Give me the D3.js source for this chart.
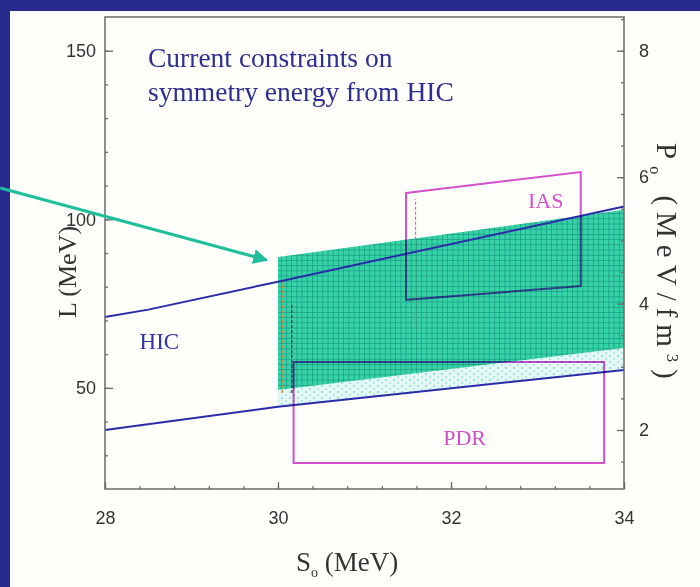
<!DOCTYPE html>
<html>
<head>
<meta charset="utf-8">
<script src="https://cdn.jsdelivr.net/npm/d3@7"></script>
<style>
  body { margin: 0; background: #fff; }
  svg { display: block; }
</style>
</head>
<body>
<div id="chart"></div>
<script>
const w = 700, h = 587;

// axis ticks
const xTicks = [28, 30, 32, 34];
const lTicks = [50, 100, 150];
const pTicks = [2, 4, 6, 8];

// constraint curves / regions (S0 in MeV, L in MeV)
const hicUpper = [[28, 71], [28.5, 73.2], [30, 81.5], [34, 103.8]];
const hicLower = [[28, 37.5], [30, 44.4], [34, 55.3]];
const bandTop = [[30, 88.8], [34, 102.8]];
const bandBottom = [[30, 49.4], [34, 61.8]];
const iasBox = [[31.48, 107.8], [33.5, 114], [33.5, 80.2], [31.48, 76.1]];
const pdrBox = [[30.18, 57.7], [33.77, 57.7], [33.77, 27.7], [30.18, 27.7]];
const dashLines = [
  {s: 30.05, l0: 48.5, l1: 81.4, c: "#d0803a"},
  {s: 30.16, l0: 48.5, l1: 75.2, c: "#335"},
  {s: 31.59, l0: 67.2, l1: 106, c: "#d0803a"}
];
const arrowFrom = [26.79, 109.3], arrowTo = [29.87, 87.9];

const rho0 = 0.16; // P0 = L * rho0 / 3

const svg = d3.select("#chart").append("svg")
    .attr("width", w)
    .attr("height", h);

const defs = svg.append("defs");

// green hatched grid
const grid = defs.append("pattern")
    .attr("id", "grid")
    .attr("patternUnits", "userSpaceOnUse")
    .attr("width", 5.2).attr("height", 5.2);
grid.append("rect").attr("width", 5.2).attr("height", 5.2).attr("fill", "#36d3a6");
grid.append("path").attr("d", "M0,0.4H5.2M0.4,0V5.2")
    .attr("stroke", "#1b9c86").attr("stroke-width", 0.8);

// light dotted fill
const dots = defs.append("pattern")
    .attr("id", "dots")
    .attr("patternUnits", "userSpaceOnUse")
    .attr("width", 8).attr("height", 6);
dots.append("rect").attr("width", 8).attr("height", 6).attr("fill", "#e4f8f5");
dots.append("circle").attr("cx", 2).attr("cy", 2).attr("r", 1).attr("fill", "#7fd9d0");
dots.append("circle").attr("cx", 6).attr("cy", 5).attr("r", 1).attr("fill", "#9fe3dc");

defs.append("marker")
    .attr("id", "head")
    .attr("viewBox", "0 0 10 10")
    .attr("refX", 9).attr("refY", 5)
    .attr("markerWidth", 5).attr("markerHeight", 5)
    .attr("markerUnits", "strokeWidth")
    .attr("orient", "auto")
  .append("path").attr("d", "M0,0L10,5L0,10z").attr("fill", "#1fbf9c");

// slide background
svg.append("rect").attr("width", w).attr("height", h).attr("fill", "#262a8e");
svg.append("rect").attr("x", 10).attr("y", 11).attr("width", w - 10).attr("height", h - 11)
    .attr("fill", "#fefefb");

const margin = {left: 105, right: 76, top: 17, bottom: 98};

const x = d3.scaleLinear().domain([28, 34]).range([margin.left, w - margin.right]);
const y = d3.scaleLinear().domain([20, 160]).range([h - margin.bottom, margin.top]);
const yP = d3.scaleLinear().domain([20 * rho0 / 3, 160 * rho0 / 3]).range(y.range());

const line = d3.line().x(d => x(d[0])).y(d => y(d[1]));

const plot = svg.append("g");

// dotted region between band bottom and lower HIC curve
const dotted = bandBottom.concat([[34, 55.3], [30, 44.4]]);
plot.append("path")
    .attr("d", line(dotted) + "Z")
    .attr("fill", "url(#dots)");

// hatched band
plot.append("path")
    .attr("d", line(bandTop.concat(bandBottom.slice().reverse())) + "Z")
    .attr("fill", "url(#grid)");

// vertical dashed lines
plot.selectAll(".vd")
    .data(dashLines)
    .enter().append("line")
    .attr("class", "vd")
    .attr("x1", d => x(d.s)).attr("x2", d => x(d.s))
    .attr("y1", d => y(d.l0)).attr("y2", d => y(d.l1))
    .attr("stroke", d => d.c)
    .attr("stroke-width", 1.2)
    .attr("stroke-dasharray", "3,2");

// HIC curves
plot.selectAll(".hic")
    .data([hicUpper, hicLower])
    .enter().append("path")
    .attr("class", "hic")
    .attr("d", line)
    .attr("fill", "none")
    .attr("stroke", "#2b2ba8")
    .attr("stroke-width", 2);

// IAS and PDR boxes
plot.selectAll(".box")
    .data([iasBox, pdrBox])
    .enter().append("path")
    .attr("class", "box")
    .attr("d", d => line(d) + "Z")
    .attr("fill", "none")
    .attr("stroke", "#d54fd0")
    .attr("stroke-width", 2)
    .style("mix-blend-mode", "multiply");

// frame
plot.append("rect")
    .attr("x", x(28)).attr("y", y(160))
    .attr("width", x(34) - x(28)).attr("height", y(20) - y(160))
    .attr("fill", "none")
    .attr("stroke", "#6a6a6a")
    .attr("stroke-width", 1.5);

function tickStyle(g) {
  g.select(".domain").remove();
  g.selectAll("line").attr("stroke", "#6a6a6a").attr("stroke-width", 1.3);
  g.selectAll("text")
    .attr("fill", "#333")
    .style("font-family", "Liberation Sans, Arial, sans-serif")
    .style("font-size", "18px");
}

// bottom axis
svg.append("g")
    .attr("transform", `translate(0,${y(20)})`)
    .call(d3.axisBottom(x).tickValues(d3.range(28, 34.01, 0.4)).tickSize(-3).tickFormat(""))
    .call(tickStyle);
svg.append("g")
    .attr("transform", `translate(0,${y(20)})`)
    .call(d3.axisBottom(x).tickValues(xTicks).tickSize(-7).tickPadding(22).tickFormat(d3.format("d")))
    .call(tickStyle);

// left axis
svg.append("g")
    .attr("transform", `translate(${x(28)},0)`)
    .call(d3.axisLeft(y).tickValues(d3.range(30, 160, 10)).tickSize(-3).tickFormat(""))
    .call(tickStyle);
svg.append("g")
    .attr("transform", `translate(${x(28)},0)`)
    .call(d3.axisLeft(y).tickValues(lTicks).tickSize(-8).tickPadding(9))
    .call(tickStyle);

// right axis
svg.append("g")
    .attr("transform", `translate(${x(34)},0)`)
    .call(d3.axisRight(yP).tickValues(d3.range(1.5, 8.6, 0.5)).tickSize(-3).tickFormat(""))
    .call(tickStyle);
svg.append("g")
    .attr("transform", `translate(${x(34)},0)`)
    .call(d3.axisRight(yP).tickValues(pTicks).tickSize(-7).tickPadding(15))
    .call(tickStyle);

// arrow
svg.append("line")
    .attr("x1", x(arrowFrom[0])).attr("y1", y(arrowFrom[1]))
    .attr("x2", x(arrowTo[0])).attr("y2", y(arrowTo[1]))
    .attr("stroke", "#1fbf9c")
    .attr("stroke-width", 3)
    .attr("marker-end", "url(#head)");

const serif = "Liberation Serif, Times New Roman, serif";

// title
const title = svg.append("text")
    .attr("fill", "#2e2e90")
    .style("font-family", serif)
    .style("font-size", "27.5px");
title.append("tspan").attr("x", 148).attr("y", 67).text("Current constraints on");
title.append("tspan").attr("x", 148).attr("y", 101).text("symmetry energy from HIC");

svg.append("text")
    .attr("x", x(28.4)).attr("y", y(61.5))
    .attr("fill", "#3232a8")
    .style("font-family", serif)
    .style("font-size", "23px")
    .text("HIC");

svg.selectAll(".lab")
    .data([{t: "IAS", s: 32.89, l: 103.4}, {t: "PDR", s: 31.91, l: 33.05}])
    .enter().append("text")
    .attr("class", "lab")
    .attr("x", d => x(d.s)).attr("y", d => y(d.l))
    .attr("fill", "#d24fc8")
    .style("font-family", serif)
    .style("font-size", "22px")
    .text(d => d.t);

// axis titles
svg.append("text")
    .attr("transform", `translate(76,272) rotate(-90)`)
    .attr("text-anchor", "middle")
    .attr("fill", "#333")
    .style("font-family", serif)
    .style("font-size", "26px")
    .text("L (MeV)");

const xl = svg.append("text")
    .attr("x", 296).attr("y", 571)
    .attr("fill", "#333")
    .style("font-family", serif)
    .style("font-size", "27px");
xl.append("tspan").text("S");
xl.append("tspan").attr("dy", 6).style("font-size", "14px").text("o");
xl.append("tspan").attr("dy", -6).text("  (MeV)");

const pl = svg.append("text")
    .attr("transform", `translate(657,143) rotate(90)`)
    .attr("fill", "#333")
    .style("font-family", serif)
    .style("font-size", "29px")
    .style("letter-spacing", "7px");
pl.append("tspan").text("P");
pl.append("tspan").attr("dy", 7).style("font-size", "16px").text("o");
pl.append("tspan").attr("dy", -7).text(" (MeV/fm");
pl.append("tspan").attr("dy", -10).style("font-size", "16px").text("3");
pl.append("tspan").attr("dy", 10).text(")");
</script>
</body>
</html>
